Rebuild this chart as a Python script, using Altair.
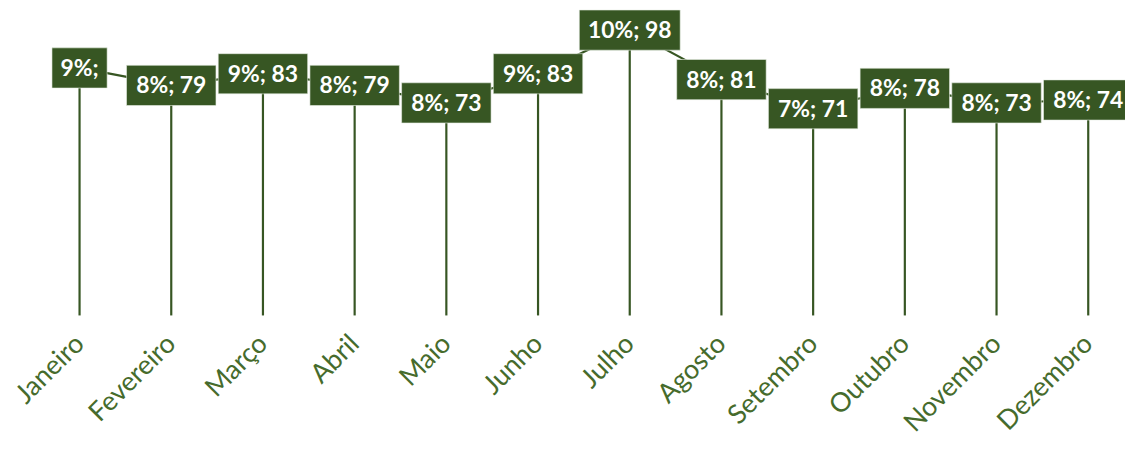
import altair as alt
import pandas as pd

months = ["Janeiro", "Fevereiro", "Março", "Abril", "Maio", "Junho",
          "Julho", "Agosto", "Setembro", "Outubro", "Novembro", "Dezembro"]
values = [85, 79, 83, 79, 73, 83, 98, 81, 71, 78, 73, 74]
labels = ["9%;", "8%; 79", "9%; 83", "8%; 79", "8%; 73", "9%; 83",
          "10%; 98", "8%; 81", "7%; 71", "8%; 78", "8%; 73", "8%; 74"]

df = pd.DataFrame({"mes": months, "valor": values, "rotulo": labels})

DARK = "#375623"
AXIS_TXT = "#466B2C"
FONT = "Lato"

x = alt.X("mes:N", sort=months, scale=alt.Scale(type="point", padding=0),
          axis=alt.Axis(title=None, labelAngle=-45, labelAlign="right",
                        labelBaseline="middle", labelFontSize=27,
                        labelColor=AXIS_TXT, labelFont=FONT, labelPadding=24,
                        domain=False, ticks=False, grid=False))
y = alt.Y("valor:Q", scale=alt.Scale(domain=[0, 100], nice=False, zero=True),
          axis=None)

base = alt.Chart(df)

drops = base.mark_rule(color=DARK, strokeWidth=2.2).encode(
    x=x, y=y, y2=alt.Y2(datum=0))

line = base.mark_line(color=DARK, strokeWidth=2.2).encode(x=x, y=y)

boxes = base.transform_calculate(
    top="datum.valor + 6.9",
    bot="datum.valor - 6.9",
    bw="length(datum.rotulo) * 11.5 + 21",
).mark_bar(color=DARK, stroke="#e8eee4", strokeWidth=0.6).encode(
    x=x,
    y=alt.Y("top:Q", scale=alt.Scale(domain=[0, 100], nice=False), axis=None),
    y2="bot:Q",
    size=alt.Size("bw:Q", scale=None, legend=None),
)

texts = base.mark_text(color="white", fontSize=23, fontWeight="bold",
                       font=FONT, baseline="middle", align="center", dy=1).encode(
    x=x, y=y, text="rotulo:N")

chart = alt.layer(drops, line, boxes, texts).properties(
    width=1015, height=293, background="white",
    autosize=alt.AutoSizeParams(type="none"),
    padding={"left": 72, "right": 37, "top": 15, "bottom": 130},
).configure_view(strokeWidth=0, stroke=None)

chart.save("out.html", embed_options={"renderer": "svg", "actions": False})
